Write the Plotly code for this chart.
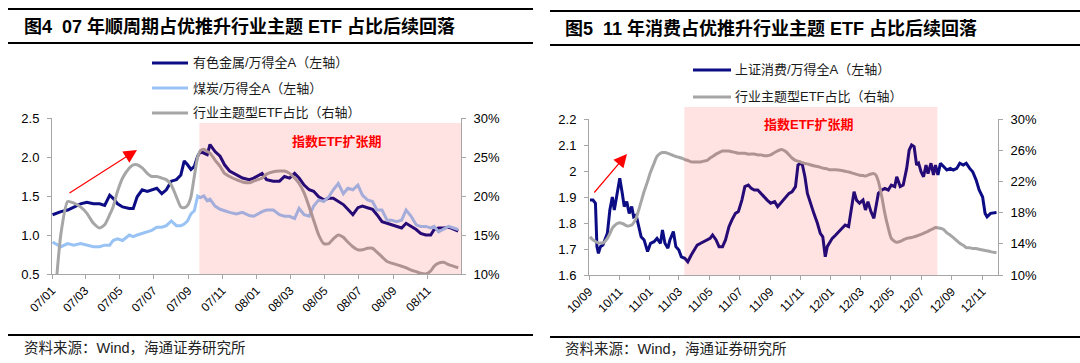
import plotly.graph_objects as go

W, H = 1080, 363


def px(x):
    return x / W


def py(y):
    return 1 - y / H


# ---------------- data: left panel (2007-2008) ----------------
left_dates = [
    "2007-01-02", "2007-01-17", "2007-01-29", "2007-02-09", "2007-02-21", "2007-03-04", "2007-03-16",
    "2007-03-27", "2007-04-05", "2007-04-14", "2007-04-20", "2007-04-28", "2007-05-07", "2007-05-19",
    "2007-05-26", "2007-06-02", "2007-06-11", "2007-06-20", "2007-06-28", "2007-07-07", "2007-07-16",
    "2007-07-24", "2007-08-02", "2007-08-11", "2007-08-19", "2007-08-25", "2007-08-31", "2007-09-06",
    "2007-09-12", "2007-09-18", "2007-09-23", "2007-09-29", "2007-10-05", "2007-10-10", "2007-10-19",
    "2007-10-28", "2007-11-05", "2007-11-14", "2007-11-26", "2007-12-07", "2007-12-19",
    "2007-12-27", "2008-01-11", "2008-01-19", "2008-01-31", "2008-02-11", "2008-02-20", "2008-02-29",
    "2008-03-09", "2008-03-17", "2008-03-26", "2008-04-04", "2008-04-12", "2008-04-21", "2008-04-30",
    "2008-05-09", "2008-05-17", "2008-05-26", "2008-06-04", "2008-06-12", "2008-06-21", "2008-06-30",
    "2008-07-08", "2008-07-17", "2008-07-26", "2008-08-03", "2008-08-12", "2008-08-21", "2008-08-29",
    "2008-09-07", "2008-09-16", "2008-09-24", "2008-10-03", "2008-10-12", "2008-10-20", "2008-10-29",
    "2008-11-07", "2008-11-13", "2008-11-21", "2008-11-30", "2008-12-09", "2008-12-26",
]
nonferrous_rel = [
    1.26, 1.30, 1.32, 1.36, 1.40, 1.42, 1.40, 1.40, 1.38, 1.51, 1.47, 1.40, 1.36, 1.34,
    1.34, 1.49, 1.58, 1.56, 1.58, 1.60, 1.53, 1.58, 1.69, 1.71, 1.77, 1.95, 1.90, 1.84,
    1.88, 2.01, 2.07, 2.05, 2.03, 2.16, 2.07, 2.01, 1.90, 1.82, 1.77, 1.73, 1.71,
    1.73, 1.79, 1.71, 1.69, 1.69, 1.75, 1.73, 1.79, 1.73, 1.64, 1.58, 1.56, 1.49, 1.45,
    1.47, 1.47, 1.43, 1.39, 1.33, 1.26, 1.35, 1.37, 1.35, 1.33, 1.26, 1.17, 1.15, 1.13,
    1.11, 1.09, 1.15, 1.11, 1.07, 1.02, 1.00, 1.00, 1.07, 1.09, 1.09, 1.10, 1.05,
]
coal_rel = [
    0.91, 0.85, 0.89, 0.87, 0.89, 0.87, 0.85, 0.85, 0.87, 0.87, 0.93, 0.95, 0.93, 1.00,
    0.98, 1.00, 1.02, 1.04, 1.06, 1.10, 1.10, 1.12, 1.18, 1.12, 1.12, 1.14, 1.18, 1.27,
    1.31, 1.50, 1.48, 1.50, 1.44, 1.46, 1.37, 1.33, 1.31, 1.29, 1.27, 1.29, 1.25,
    1.24, 1.30, 1.32, 1.32, 1.26, 1.24, 1.24, 1.21, 1.34, 1.26, 1.24, 1.37, 1.45, 1.43,
    1.49, 1.58, 1.66, 1.53, 1.60, 1.58, 1.64, 1.51, 1.45, 1.43, 1.32, 1.32, 1.19, 1.19,
    1.17, 1.19, 1.32, 1.24, 1.13, 1.11, 1.11, 1.09, 1.11, 1.04, 1.07, 1.11, 1.07,
]
etf_share_left = [
    3.0, 15.2, 19.3, 19.1, 18.6, 17.8, 16.5, 15.9, 16.3, 17.6, 18.6, 20.6, 22.3, 23.6,
    24.0, 24.0, 23.6, 22.9, 22.5, 22.5, 22.3, 22.1, 21.4, 19.9, 18.6, 18.5, 18.8, 19.9,
    22.5, 25.0, 25.8, 26.0, 25.7, 25.5, 24.6, 23.8, 22.9, 22.5, 22.1, 21.8, 21.7,
    21.9, 22.3, 22.8, 23.1, 23.2, 23.2, 22.9, 22.3, 21.6, 20.4, 18.6, 16.9, 15.0, 13.9,
    13.9, 14.5, 15.0, 14.7, 14.1, 13.5, 13.1, 13.1, 13.3, 13.3, 12.8, 12.2, 11.6, 11.4,
    11.2, 11.0, 10.8, 10.5, 10.3, 10.1, 10.0, 10.4, 11.0, 11.4, 11.5, 11.2, 10.8,
]

# ---------------- data: right panel (2010-2012) ----------------
right_dates = [
    "2010-09-03", "2010-09-09", "2010-09-14", "2010-09-17", "2010-09-20", "2010-09-24", "2010-09-29",
    "2010-10-03", "2010-10-08", "2010-10-13", "2010-10-18", "2010-10-22", "2010-10-28", "2010-11-02",
    "2010-11-07", "2010-11-11", "2010-11-16", "2010-11-21", "2010-11-26", "2010-11-30", "2010-12-05",
    "2010-12-10", "2010-12-15", "2010-12-21", "2010-12-28", "2011-01-03", "2011-01-10", "2011-01-16",
    "2011-01-23", "2011-01-27", "2011-02-01", "2011-02-07", "2011-02-11", "2011-02-18", "2011-02-23",
    "2011-03-01", "2011-03-06", "2011-03-13", "2011-03-19", "2011-03-26", "2011-04-01", "2011-04-07",
    "2011-04-14", "2011-04-20", "2011-04-27", "2011-05-03", "2011-05-08", "2011-05-15", "2011-05-21",
    "2011-05-28", "2011-06-03", "2011-06-10", "2011-06-16", "2011-06-23", "2011-06-29", "2011-07-06",
    "2011-07-12", "2011-07-19", "2011-07-25", "2011-07-31", "2011-08-07", "2011-08-13", "2011-08-20",
    "2011-08-26", "2011-09-02", "2011-09-10", "2011-09-16", "2011-09-24",
    "2011-10-03", "2011-10-09", "2011-10-15", "2011-10-22", "2011-10-27", "2011-11-01", "2011-11-05",
    "2011-11-10", "2011-11-15", "2011-11-22", "2011-11-28", "2011-12-05", "2011-12-11", "2011-12-16",
    "2011-12-21", "2011-12-25", "2011-12-29", "2012-01-04", "2012-01-11", "2012-01-17", "2012-01-24",
    "2012-01-30", "2012-02-06", "2012-02-12", "2012-02-17", "2012-02-22", "2012-02-28", "2012-03-06",
    "2012-03-11", "2012-03-16", "2012-03-22", "2012-03-28", "2012-04-01", "2012-04-06", "2012-04-13",
    "2012-04-19", "2012-04-26", "2012-05-02", "2012-05-09", "2012-05-13", "2012-05-20", "2012-05-26",
    "2012-06-02", "2012-06-07", "2012-06-12", "2012-06-17", "2012-06-22", "2012-06-26", "2012-07-01",
    "2012-07-06", "2012-07-11", "2012-07-15", "2012-07-21", "2012-07-26", "2012-07-30", "2012-08-04",
    "2012-08-09", "2012-08-16", "2012-08-22", "2012-08-29", "2012-09-04", "2012-09-11", "2012-09-17",
    "2012-09-24", "2012-09-30", "2012-10-07", "2012-10-13", "2012-10-20", "2012-10-26", "2012-11-02",
    "2012-11-07", "2012-11-11", "2012-11-18", "2012-11-30",
]
consumer_rel = [
    1.888, 1.888, 1.876, 1.709, 1.683, 1.709, 1.715,
    1.735, 1.760, 1.850, 1.900, 1.850, 1.914, 1.972,
    1.914, 1.863, 1.882, 1.837, 1.863, 1.824, 1.830,
    1.786, 1.747, 1.735, 1.690, 1.722, 1.728, 1.741,
    1.722, 1.773, 1.722, 1.703, 1.735, 1.767, 1.709,
    1.696, 1.670, 1.664, 1.651, 1.677, 1.696, 1.715,
    1.722, 1.728, 1.735, 1.741, 1.754, 1.735, 1.709,
    1.709, 1.735, 1.786, 1.812, 1.837, 1.844, 1.888,
    1.940, 1.946, 1.933, 1.927, 1.927, 1.914, 1.900,
    1.888, 1.876, 1.882, 1.863, 1.882,
    1.900, 1.914, 1.920, 1.940, 2.023, 2.030, 2.023,
    1.978, 1.914, 1.869, 1.837, 1.800, 1.760, 1.747,
    1.670, 1.709, 1.722, 1.741, 1.754, 1.767, 1.780,
    1.792, 1.786, 1.850, 1.920, 1.888, 1.876, 1.888,
    1.850, 1.882, 1.844, 1.818, 1.863, 1.914, 1.927,
    1.933, 1.927, 1.946, 1.940, 1.978, 1.940, 1.946,
    2.010, 2.080, 2.100, 2.094, 2.023, 2.030, 1.997,
    1.978, 2.023, 1.990, 2.030, 1.985, 2.023, 1.985,
    2.030, 2.017, 2.004, 2.010, 2.004, 2.010, 2.030,
    2.023, 2.030, 2.010, 1.997, 1.965, 1.927, 1.900,
    1.837, 1.824, 1.837, 1.840,
]
etf_share_right = [
    14.9, 14.5, 14.3, 14.2, 14.1, 14.1, 14.1,
    14.3, 14.7, 15.3, 16.0, 16.3, 16.6, 16.7,
    16.6, 16.5, 16.3, 16.3, 16.4, 16.7, 17.3,
    18.3, 19.4, 20.7, 22.0, 23.2, 24.3, 25.2,
    25.6, 25.7, 25.7, 25.6, 25.5, 25.3, 25.2,
    25.1, 25.0, 24.8, 24.7, 24.5, 24.5, 24.5,
    24.5, 24.6, 24.7, 25.0, 25.2, 25.5, 25.7,
    25.9, 25.9, 25.9, 25.8, 25.7, 25.6, 25.6,
    25.6, 25.5, 25.5, 25.5, 25.4, 25.4, 25.3,
    25.3, 25.4, 25.7, 25.9, 26.1,
    25.8, 25.4, 25.0, 24.7, 24.6, 24.5, 24.4,
    24.3, 24.25, 24.1, 24.0, 23.9, 23.8, 23.7,
    23.65, 23.6, 23.5, 23.5, 23.5, 23.45, 23.4,
    23.3, 23.2, 23.1, 23.0, 22.9, 22.8, 22.75,
    22.7, 22.8, 22.95, 23.0, 22.8, 22.0, 20.0,
    17.9, 16.0, 14.7, 14.3, 14.2, 14.3, 14.5,
    14.7, 14.75, 14.8, 14.9, 15.0, 15.1, 15.2,
    15.35, 15.5, 15.6, 15.8, 15.95, 16.1, 16.05,
    16.0, 15.8, 15.4, 15.1, 14.8, 14.4, 14.06,
    13.8, 13.5, 13.5, 13.4, 13.4, 13.3, 13.2,
    13.15, 13.1, 13.0, 12.85,
]

# ---------------- text ----------------
title_left = "图4\u00a0\u00a007 年顺周期占优推升行业主题 ETF 占比后续回落"
title_right = "图5\u00a0\u00a011 年消费占优推升行业主题 ETF 占比后续回落"
legend_left = ["有色金属/万得全A（左轴）", "煤炭/万得全A（左轴）", "行业主题型ETF占比（右轴）"]
legend_right = ["上证消费/万得全A（左轴）", "行业主题型ETF占比（右轴）"]
shade_label = "指数ETF扩张期"
source_text = "资料来源：Wind，海通证券研究所"

NAVY = "#0c0c85"
LIGHT = "#99c2f5"
GREY = "#a6a6a6"
AX = "#a6a6a6"
FONT = "Liberation Sans, Arial, Noto Sans CJK SC, sans-serif"

fig = go.Figure()
fig.add_trace(go.Scatter(x=left_dates, y=nonferrous_rel, xaxis="x", yaxis="y", mode="lines",
                         line=dict(color=NAVY, width=3), name=legend_left[0]))
fig.add_trace(go.Scatter(x=left_dates, y=coal_rel, xaxis="x", yaxis="y", mode="lines",
                         line=dict(color=LIGHT, width=3), name=legend_left[1]))
fig.add_trace(go.Scatter(x=left_dates, y=etf_share_left, xaxis="x", yaxis="y2", mode="lines",
                         line=dict(color=GREY, width=3, shape="spline", smoothing=0.6), name=legend_left[2]))
fig.add_trace(go.Scatter(x=right_dates, y=consumer_rel, xaxis="x2", yaxis="y3", mode="lines",
                         line=dict(color=NAVY, width=3), name=legend_right[0]))
fig.add_trace(go.Scatter(x=right_dates, y=etf_share_right, xaxis="x2", yaxis="y4", mode="lines",
                         line=dict(color=GREY, width=3, shape="spline", smoothing=0.6), name=legend_right[1]))

tickfont = dict(family=FONT, size=13, color="#000000")
xtickfont = dict(family=FONT, size=12, color="#000000")
common_y = dict(showline=True, linecolor=AX, linewidth=1, ticks="outside", ticklen=4, tickcolor=AX,
                showgrid=False, zeroline=False, tickfont=tickfont, ticklabelstandoff=5,
                automargin=False)
common_x = dict(type="date", showline=True, linecolor=AX, linewidth=1, ticks="outside", ticklen=4,
                tickcolor=AX, showgrid=False, zeroline=False, tickformat="%y/%m", dtick="M2",
                tickangle=-45, tickfont=xtickfont, automargin=False)

fig.update_layout(
    width=W, height=H, margin=dict(l=0, r=0, t=0, b=0, pad=0, autoexpand=False),
    paper_bgcolor="white", plot_bgcolor="rgba(0,0,0,0)", showlegend=False,
    xaxis=dict(domain=[px(52), px(461)], anchor="y", range=["2007-01-01", "2008-12-31"],
               tick0="2007-01-01", **common_x),
    yaxis=dict(domain=[py(274), py(118)], anchor="x", range=[0.5, 2.5], dtick=0.5,
               tickformat=".1f", **common_y),
    yaxis2=dict(overlaying="y", side="right", anchor="x", range=[10, 30], tick0=10, dtick=5,
                ticksuffix="%", **common_y),
    xaxis2=dict(domain=[px(589), px(998)], anchor="y3", range=["2010-09-01", "2012-12-03"],
                tick0="2010-09-01", **common_x),
    yaxis3=dict(domain=[py(275), py(119)], anchor="x2", range=[1.6, 2.2], dtick=0.1, **common_y),
    yaxis4=dict(overlaying="y3", side="right", anchor="x2", range=[10, 30], tick0=10, dtick=4,
                ticksuffix="%", **common_y),
)

shapes = []
shapes.append(dict(type="rect", xref="x", yref="paper", x0="2007-09-21", x1="2008-12-31",
                   y0=py(274), y1=py(123), fillcolor="rgba(255,0,0,0.11)", line=dict(width=0),
                   layer="above"))
shapes.append(dict(type="rect", xref="x2", yref="paper", x0="2011-03-12", x1="2012-08-03",
                   y0=py(275), y1=py(107), fillcolor="rgba(255,0,0,0.11)", line=dict(width=0),
                   layer="above"))
for (xa, xb, ys) in [(8, 533, [9, 43, 335]), (550, 1080, [11, 45, 337])]:
    for yy in ys:
        shapes.append(dict(type="line", xref="paper", yref="paper", x0=px(xa), x1=px(xb),
                           y0=py(yy), y1=py(yy), line=dict(color="#000000", width=2)))
for (yy, col) in [(63, NAVY), (88, LIGHT), (113, GREY)]:
    shapes.append(dict(type="line", xref="paper", yref="paper", x0=px(152), x1=px(188),
                       y0=py(yy), y1=py(yy), line=dict(color=col, width=3)))
for (yy, col) in [(70, NAVY), (97, GREY)]:
    shapes.append(dict(type="line", xref="paper", yref="paper", x0=px(693), x1=px(731),
                       y0=py(yy), y1=py(yy), line=dict(color=col, width=3)))
fig.update_layout(shapes=shapes)

ann = []
for (xx, yy, t) in [(22, 27, title_left), (563, 28, title_right)]:
    ann.append(dict(x=px(xx), y=py(yy), xref="paper", yref="paper", text="<b>" + t + "</b>",
                    showarrow=False, xanchor="left", yanchor="middle",
                    font=dict(family=FONT, size=18, color="#000000")))
for (yy, t) in zip([63, 88, 113], legend_left):
    ann.append(dict(x=px(191), y=py(yy), xref="paper", yref="paper", text=t, showarrow=False,
                    xanchor="left", yanchor="middle", font=dict(family=FONT, size=13, color="#1a1a1a")))
for (yy, t) in zip([70, 97], legend_right):
    ann.append(dict(x=px(733), y=py(yy), xref="paper", yref="paper", text=t, showarrow=False,
                    xanchor="left", yanchor="middle", font=dict(family=FONT, size=13, color="#1a1a1a")))
for (xx, yy) in [(337, 142), (809, 124)]:
    ann.append(dict(x=px(xx), y=py(yy), xref="paper", yref="paper", text="<b>" + shade_label + "</b>",
                    showarrow=False, xanchor="center", yanchor="middle",
                    font=dict(family=FONT, size=13, color="#ff0000")))
for (xx, yy) in [(22, 348), (563, 349)]:
    ann.append(dict(x=px(xx), y=py(yy), xref="paper", yref="paper", text=source_text, showarrow=False,
                    xanchor="left", yanchor="middle", font=dict(family=FONT, size=14.5, color="#222222")))
for (hx, hy, tx, ty) in [(137, 150, 68, 194), (627, 154, 593, 194)]:
    ann.append(dict(x=px(hx), y=py(hy), xref="paper", yref="paper", text="", showarrow=True,
                    ax=tx - hx, ay=ty - hy, arrowhead=2, arrowsize=2.2, arrowwidth=1.2,
                    arrowcolor="#ff0000", standoff=0))
fig.update_layout(annotations=ann)

fig.write_html(
    "out.html",
    config={"displayModeBar": False},
    post_script="document.body.style.margin='0';document.body.style.padding='0';"
                "document.documentElement.style.overflow='hidden';",
)
